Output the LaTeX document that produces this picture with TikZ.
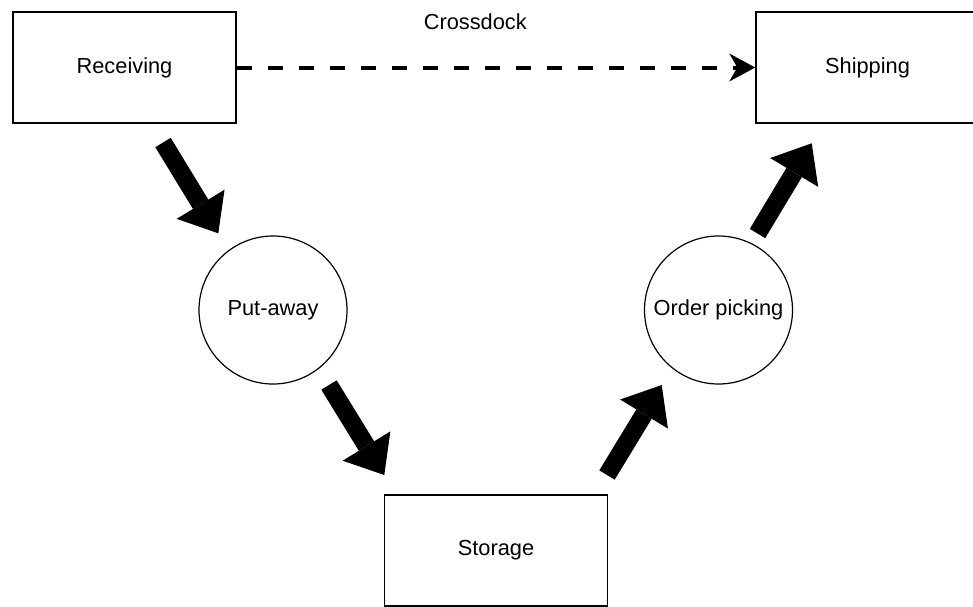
\documentclass[tikz,border=0pt]{standalone}
\usepackage{fontspec}
\setmainfont{Liberation Sans}
\usetikzlibrary{arrows.meta,positioning}

\begin{document}
\begin{tikzpicture}[x=0.5pt,y=-0.5pt,
  font=\fontsize{10.9}{13}\selectfont,
  stage/.style={draw,line width=0.75pt,minimum width=111.5pt,minimum height=55.5pt,inner sep=0pt},
  activity/.style={draw,circle,line width=0.6pt,minimum size=74pt,inner sep=1pt},
  flow/.style={line width=9pt,-{Triangle[line width=0pt,length=17pt,width=28pt]}},
  crossdock/.style={line width=2pt,dash pattern=on 7.5pt off 8pt,
    -{Stealth[line width=0pt,length=13pt,width=14pt,inset=4pt]}}]
\useasboundingbox (0,0) rectangle (973,606);
% stages
\node[stage] (recv) at (124.5,67.5) {Receiving};
\node[stage] (ship) at (867.5,67.5) {Shipping};
\node[stage] (store) at (496,550.5) {Storage};
% activities
\node[activity] (put) at (273,310) {Put-away};
\node[activity] (pick) at (718.5,310) {Order picking};
% crossdock flow
\draw[crossdock] (recv) -- (ship) node[pos=0.46,above=14.5pt] (xdock) {Crossdock};
% block arrow ends
\coordinate (recv out) at (163,142.5);
\coordinate (put in)   at (218.3,233.3);
\coordinate (put out)  at (329,385);
\coordinate (store in) at (384.3,475);
\coordinate (store out) at (607,475);
\coordinate (pick in)  at (661.7,385);
\coordinate (pick out) at (757.5,233.5);
\coordinate (ship in)  at (811.7,143.3);
% main flow
\draw[flow] (recv out) -- (put in);
\draw[flow] (put out) -- (store in);
\draw[flow] (store out) -- (pick in);
\draw[flow] (pick out) -- (ship in);
\end{tikzpicture}
\end{document}
